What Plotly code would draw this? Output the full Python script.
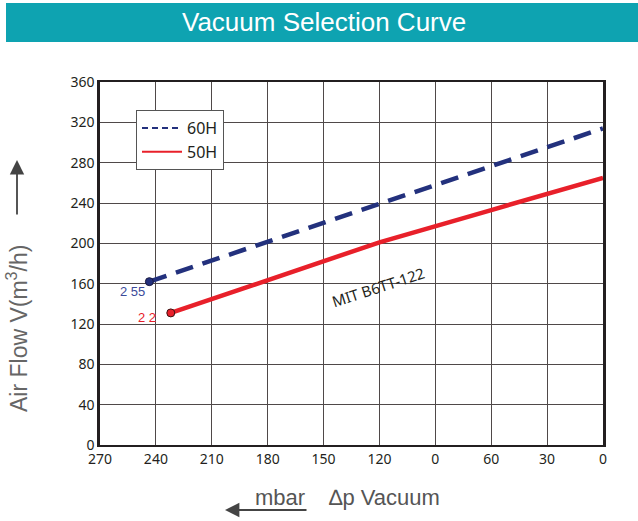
import plotly.graph_objects as go

# ---- data ----
x_tick_vals = [270, 240, 210, 180, 150, 120, 90, 60, 30, 0]
x_tick_text = ["270", "240", "210", "180", "150", "120", "0", "60", "30", "0"]
y_tick_vals = [0, 40, 80, 120, 160, 200, 240, 280, 320, 360]

x_60h = [243.5, 0]
y_60h = [162, 314]
x_50h = [232, 180, 120, 60, 0]
y_50h = [131, 164, 201, 233, 265]

NAVY = "#23317d"
RED = "#e8202a"
W, H = 638, 521
L, R, T, B = 100, 603, 82, 445


def px(x):
    return (x - L) / (R - L)


def py(y):
    return (B - y) / (B - T)


fig = go.Figure()

fig.add_trace(go.Scatter(x=x_60h, y=y_60h, mode="lines", showlegend=False,
                         line=dict(color=NAVY, width=4.5, dash="18px,10px")))
fig.add_trace(go.Scatter(x=x_50h, y=y_50h, mode="lines", showlegend=False,
                         line=dict(color=RED, width=4.5)))
fig.add_trace(go.Scatter(x=[x_60h[0]], y=[y_60h[0]], mode="markers", showlegend=False,
                         marker=dict(color=NAVY, size=8, line=dict(color="#1a1a40", width=1))))
fig.add_trace(go.Scatter(x=[x_50h[0]], y=[y_50h[0]], mode="markers", showlegend=False,
                         marker=dict(color=RED, size=8, line=dict(color="#3a1010", width=1))))
# legend entries
fig.add_trace(go.Scatter(x=[None], y=[None], mode="lines", name="60H",
                         line=dict(color=NAVY, width=2, dash="6px,4px")))
fig.add_trace(go.Scatter(x=[None], y=[None], mode="lines", name="50H",
                         line=dict(color=RED, width=2)))

grid = "#4f4949"
fig.update_xaxes(range=[270, 0], tickvals=x_tick_vals, ticktext=x_tick_text,
                 showgrid=True, gridcolor=grid, gridwidth=1, zeroline=False,
                 showline=True, linecolor="#231f20", linewidth=1.5, mirror=True,
                 ticks="", tickfont=dict(size=14, color="#231f20", family="Noto Sans"))
fig.update_yaxes(range=[0, 360], tickvals=y_tick_vals,
                 showgrid=True, gridcolor=grid, gridwidth=1, zeroline=False,
                 showline=True, linecolor="#231f20", linewidth=2.5, mirror=True,
                 ticks="", tickfont=dict(size=14, color="#231f20", family="Noto Sans"))


def A(**kw):
    d = dict(xanchor="center", yanchor="middle", showarrow=False)
    d.update(kw)
    return d


ann = []
ann.append(A(x=252.8, y=151.8, xref="x", yref="y", text="2 55",
             font=dict(size=13, color="#3b4a9a", family="Liberation Sans")))
ann.append(A(x=244.8, y=126, xref="x", yref="y", text="2 2",
             font=dict(size=13, color=RED, family="Liberation Sans")))
ann.append(A(x=120.8, y=156.7, xref="x", yref="y", text="MIT B6TT-122",
             textangle=-18, font=dict(size=15, color="#231f20", family="Noto Sans")))
# title
ann.append(A(x=px(324), y=py(22), xref="paper", yref="paper", text="Vacuum Selection Curve",
             font=dict(size=26, color="white", family="Liberation Sans")))
# y title
ann.append(A(x=px(17), y=py(329), xref="paper", yref="paper", text="Air Flow V(m<sup>3</sup>/h)",
             textangle=-90, font=dict(size=23, color="#666666", family="Liberation Sans")))
ann.append(A(x=px(17), y=py(160), xref="paper", yref="paper", text="", showarrow=True,
             ax=0, ay=56, arrowhead=2, arrowsize=1.6, arrowwidth=1.8, arrowcolor="#444444"))
# x title
ann.append(A(x=px(280), y=py(497), xref="paper", yref="paper", text="mbar",
             font=dict(size=22, color="#555555", family="Liberation Sans")))
ann.append(A(x=px(384), y=py(497), xref="paper", yref="paper", text="\u2206p Vacuum",
             font=dict(size=22, color="#555555", family="Liberation Sans")))
ann.append(A(x=px(225), y=py(510), xref="paper", yref="paper", text="", showarrow=True,
             ax=83, ay=0, arrowhead=2, arrowsize=1.6, arrowwidth=1.8, arrowcolor="#444444"))

fig.update_layout(
    width=W, height=H,
    margin=dict(l=L, r=W - R, t=T, b=H - B),
    paper_bgcolor="white", plot_bgcolor="white",
    annotations=ann,
    shapes=[dict(type="rect", xref="paper", yref="paper",
                 x0=px(6), x1=px(638), y0=py(42), y1=py(3),
                 fillcolor="#0ea3b1", line=dict(width=0), layer="below")],
    legend=dict(x=px(136), y=py(110), xanchor="left", yanchor="top",
                bgcolor="white", bordercolor="#555555", borderwidth=1,
                font=dict(size=16, color="#231f20", family="Noto Sans"),
                tracegroupgap=0, itemwidth=40),
    showlegend=True,
)

fig.write_html("out.html", config={"displayModeBar": False},
               post_script="document.body.style.margin='0';document.body.style.overflow='hidden';")
